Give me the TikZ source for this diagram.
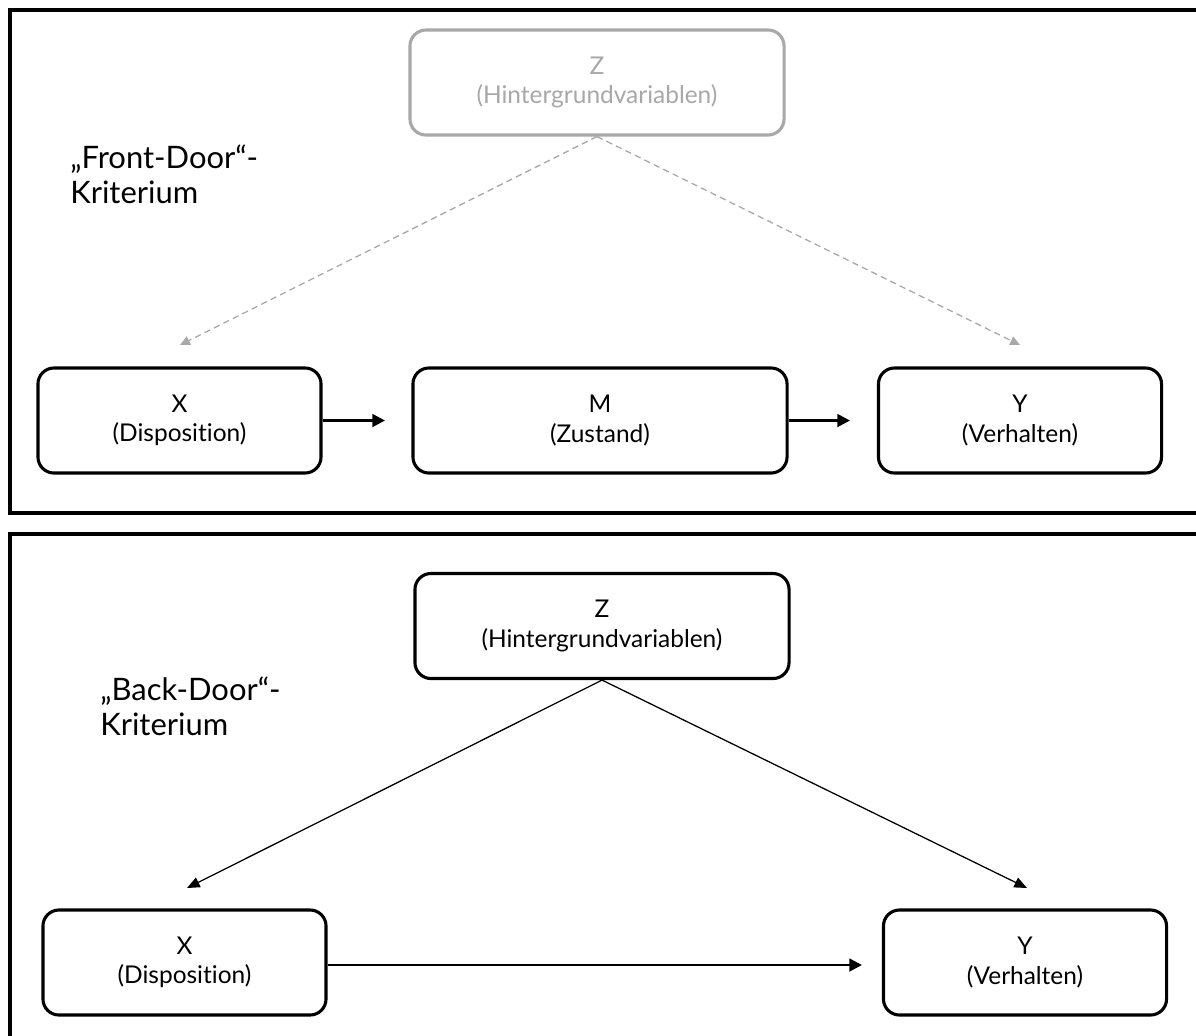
\documentclass[tikz,border=0pt]{standalone}
\usepackage{fontspec}
\setmainfont[Ligatures=NoCommon]{Lato}
\usetikzlibrary{arrows.meta}
\definecolor{faded}{HTML}{A8A8A8}
\begin{document}
\begin{tikzpicture}[x=0.025cm,y=-0.025cm,
  box/.style={draw=black,line width=2.2pt,rounded corners=0.4cm,fill=white,
    minimum width=7.075cm,minimum height=2.625cm,inner sep=0pt,align=center,
    font=\fontsize{17.4}{20.8}\selectfont},
  widebox/.style={box,minimum width=9.35cm},
  fadedbox/.style={widebox,draw=faded,text=faded},
  frame/.style={line width=2.9pt},
  flow/.style={line width=1.9pt,-{Triangle[length=9pt,width=9pt]}},
  link/.style={line width=0.9pt,-{Triangle[length=9pt,width=7.5pt]}},
  fadedlink/.style={line width=0.9pt,draw=faded,dash pattern=on 4.5pt off 3pt,
    -{Triangle[length=7pt,width=6.5pt,fill=faded]}},
  tag/.style={anchor=north west,align=left,inner sep=0pt,
    font=\fontsize{22}{24.3}\selectfont}]
\useasboundingbox (0,0) rectangle (1196,1035);
\clip (0,0) rectangle (1196,1035);

% panel frames, open to the right and below
\draw[frame] (1210,10) -- (10,10) -- (10,513) -- (1210,513);
\draw[frame] (1210,534) -- (10,534) -- (10,1050);

% front-door panel
\node[tag] (fdlabel) at (70,145) {„Front-Door“-\\Kriterium};
\node[fadedbox] (z1) at (597,82.5) {Z\\(Hintergrundvariablen)};
\node[box] (x1) at (179.5,420.5) {X\\(Disposition)};
\node[widebox] (m1) at (600,420.5) {M\\(Zustand)};
\node[box] (y1) at (1020,420.5) {Y\\(Verhalten)};
\coordinate (x1in) at (180,345);
\coordinate (y1in) at (1020,345);
\coordinate (x1out) at (385,420.5);
\coordinate (m1out) at (850,420.5);
\draw[fadedlink] (z1.south) -- (x1in);
\draw[fadedlink] (z1.south) -- (y1in);
\draw[flow] (x1.east) -- (x1out);
\draw[flow] (m1.east) -- (m1out);

% back-door panel
\node[tag] (bdlabel) at (100,677) {„Back-Door“-\\Kriterium};
\node[widebox] (z2) at (602,626) {Z\\(Hintergrundvariablen)};
\node[box] (x2) at (184.5,962.5) {X\\(Disposition)};
\node[box] (y2) at (1025,962.5) {Y\\(Verhalten)};
\coordinate (x2in) at (187,888);
\coordinate (y2in) at (1027,888);
\coordinate (x2out) at (862,965);
\draw[link] (z2.south) -- (x2in);
\draw[link] (z2.south) -- (y2in);
\draw[flow] (x2.east |- x2out) -- (x2out);
\end{tikzpicture}
\end{document}
